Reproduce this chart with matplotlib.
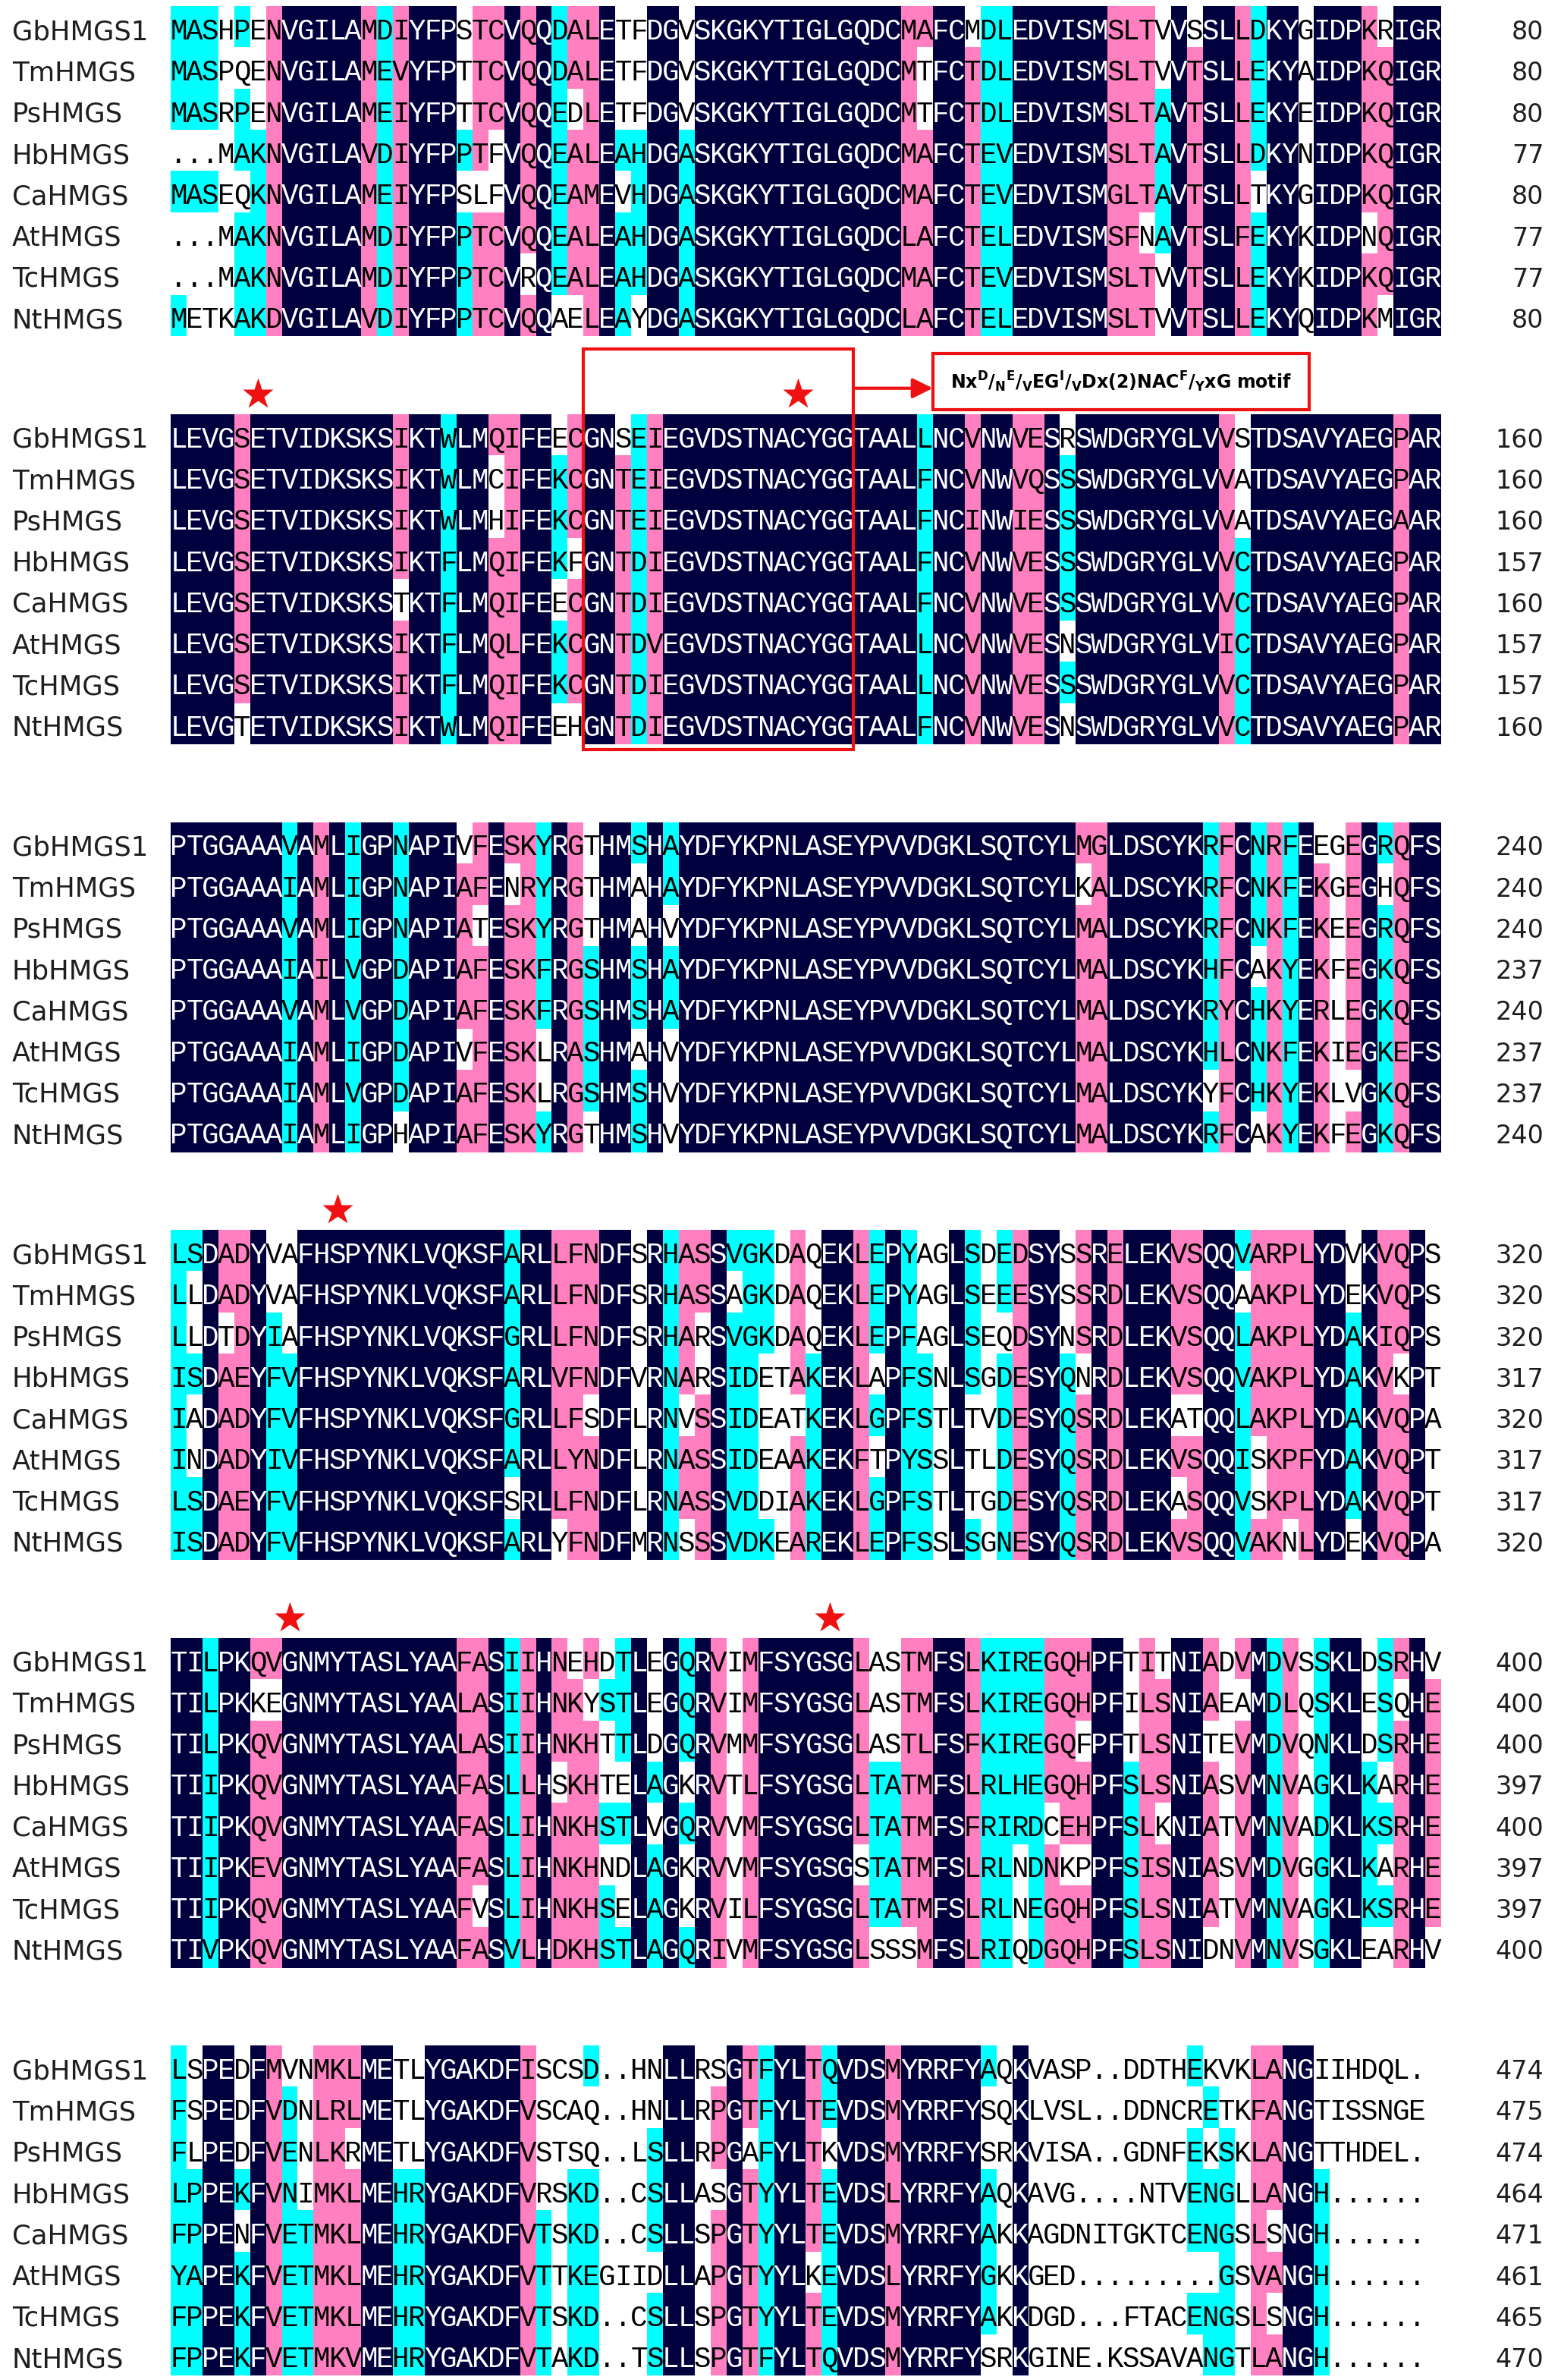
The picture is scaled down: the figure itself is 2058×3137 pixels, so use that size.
import numpy as np
import matplotlib
matplotlib.use('Agg')
import matplotlib.pyplot as plt
from matplotlib.patches import Rectangle
from collections import Counter

names = ['GbHMGS1', 'TmHMGS', 'PsHMGS', 'HbHMGS', 'CaHMGS', 'AtHMGS', 'TcHMGS', 'NtHMGS']

block1 = [
    'MASHPENVGILAMDIYFPSTCVQQDALETFDGVSKGKYTIGLGQDCMAFCMDLEDVISMSLTVVSSLLDKYGIDPKRIGR',
    'MASPQENVGILAMEVYFPTTCVQQDALETFDGVSKGKYTIGLGQDCMTFCTDLEDVISMSLTVVTSLLEKYAIDPKQIGR',
    'MASRPENVGILAMEIYFPTTCVQQEDLETFDGVSKGKYTIGLGQDCMTFCTDLEDVISMSLTAVTSLLEKYEIDPKQIGR',
    '...MAKNVGILAVDIYFPPTFVQQEALEAHDGASKGKYTIGLGQDCMAFCTEVEDVISMSLTAVTSLLDKYNIDPKQIGR',
    'MASEQKNVGILAMEIYFPSLFVQQEAMEVHDGASKGKYTIGLGQDCMAFCTEVEDVISMGLTAVTSLLTKYGIDPKQIGR',
    '...MAKNVGILAMDIYFPPTCVQQEALEAHDGASKGKYTIGLGQDCLAFCTELEDVISMSFNAVTSLFEKYKIDPNQIGR',
    '...MAKNVGILAMDIYFPPTCVRQEALEAHDGASKGKYTIGLGQDCMAFCTEVEDVISMSLTVVTSLLEKYKIDPKQIGR',
    'METKAKDVGILAVDIYFPPTCVQQAELEAYDGASKGKYTIGLGQDCLAFCTELEDVISMSLTVVTSLLEKYQIDPKMIGR',
]
block2 = [
    'LEVGSETVIDKSKSIKTWLMQIFEECGNSEIEGVDSTNACYGGTAALLNCVNWVESRSWDGRYGLVVSTDSAVYAEGPAR',
    'LEVGSETVIDKSKSIKTWLMCIFEKCGNTEIEGVDSTNACYGGTAALFNCVNWVQSSSWDGRYGLVVATDSAVYAEGPAR',
    'LEVGSETVIDKSKSIKTWLMHIFEKCGNTEIEGVDSTNACYGGTAALFNCINWIESSSWDGRYGLVVATDSAVYAEGAAR',
    'LEVGSETVIDKSKSIKTFLMQIFEKFGNTDIEGVDSTNACYGGTAALFNCVNWVESSSWDGRYGLVVCTDSAVYAEGPAR',
    'LEVGSETVIDKSKSTKTFLMQIFEECGNTDIEGVDSTNACYGGTAALFNCVNWVESSSWDGRYGLVVCTDSAVYAEGPAR',
    'LEVGSETVIDKSKSIKTFLMQLFEKCGNTDVEGVDSTNACYGGTAALLNCVNWVESNSWDGRYGLVICTDSAVYAEGPAR',
    'LEVGSETVIDKSKSIKTFLMQIFEKCGNTDIEGVDSTNACYGGTAALLNCVNWVESSSWDGRYGLVVCTDSAVYAEGPAR',
    'LEVGTETVIDKSKSIKTWLMQIFEEHGNTDIEGVDSTNACYGGTAALFNCVNWVESNSWDGRYGLVVCTDSAVYAEGPAR',
]
block3 = [
    'PTGGAAAVAMLIGPNAPIVFESKYRGTHMSHAYDFYKPNLASEYPVVDGKLSQTCYLMGLDSCYKRFCNRFEEGEGRQFS',
    'PTGGAAAIAMLIGPNAPIAFENRYRGTHMAHAYDFYKPNLASEYPVVDGKLSQTCYLKALDSCYKRFCNKFEKGEGHQFS',
    'PTGGAAAVAMLIGPNAPIATESKYRGTHMAHVYDFYKPNLASEYPVVDGKLSQTCYLMALDSCYKRFCNKFEKEEGRQFS',
    'PTGGAAAIAILVGPDAPIAFESKFRGSHMSHAYDFYKPNLASEYPVVDGKLSQTCYLMALDSCYKHFCAKYEKFEGKQFS',
    'PTGGAAAVAMLVGPDAPIAFESKFRGSHMSHAYDFYKPNLASEYPVVDGKLSQTCYLMALDSCYKRYCHKYERLEGKQFS',
    'PTGGAAAIAMLIGPDAPIVFESKLRASHMAHVYDFYKPNLASEYPVVDGKLSQTCYLMALDSCYKHLCNKFEKIEGKEFS',
    'PTGGAAAIAMLVGPDAPIAFESKLRGSHMSHVYDFYKPNLASEYPVVDGKLSQTCYLMALDSCYKYFCHKYEKLVGKQFS',
    'PTGGAAAIAMLIGPHAPIAFESKYRGTHMSHVYDFYKPNLASEYPVVDGKLSQTCYLMALDSCYKRFCAKYEKFEGKQFS',
]
block4 = [
    'LSDADYVAFHSPYNKLVQKSFARLLFNDFSRHASSVGKDAQEKLEPYAGLSDEDSYSSRELEKVSQQVARPLYDVKVQPS',
    'LLDADYVAFHSPYNKLVQKSFARLLFNDFSRHASSAGKDAQEKLEPYAGLSEEESYSSRDLEKVSQQAAKPLYDEKVQPS',
    'LLDTDYIAFHSPYNKLVQKSFGRLLFNDFSRHARSVGKDAQEKLEPFAGLSEQDSYNSRDLEKVSQQLAKPLYDAKIQPS',
    'ISDAEYFVFHSPYNKLVQKSFARLVFNDFVRNARSIDETAKEKLAPFSNLSGDESYQNRDLEKVSQQVAKPLYDAKVKPT',
    'IADADYFVFHSPYNKLVQKSFGRLLFSDFLRNVSSIDEATKEKLGPFSTLTVDESYQSRDLEKATQQLAKPLYDAKVQPA',
    'INDADYIVFHSPYNKLVQKSFARLLYNDFLRNASSIDEAAKEKFTPYSSLTLDESYQSRDLEKVSQQISKPFYDAKVQPT',
    'LSDAEYFVFHSPYNKLVQKSFSRLLFNDFLRNASSVDDIAKEKLGPFSTLTGDESYQSRDLEKASQQVSKPLYDAKVQPT',
    'ISDADYFVFHSPYNKLVQKSFARLYFNDFMRNSSSVDKEAREKLEPFSSLSGNESYQSRDLEKVSQQVAKNLYDEKVQPA',
]
block5 = [
    'TILPKQVGNMYTASLYAAFASIIHNEHDTLEGQRVIMFSYGSGLASTMFSLKIREGQHPFTITNIADVMDVSSKLDSRHV',
    'TILPKKEGNMYTASLYAALASIIHNKYSTLEGQRVIMFSYGSGLASTMFSLKIREGQHPFILSNIAEAMDLQSKLESQHE',
    'TILPKQVGNMYTASLYAALASIIHNKHTTLDGQRVMMFSYGSGLASTLFSFKIREGQFPFTLSNITEVMDVQNKLDSRHE',
    'TIIPKQVGNMYTASLYAAFASLLHSKHTELAGKRVTLFSYGSGLTATMFSLRLHEGQHPFSLSNIASVMNVAGKLKARHE',
    'TIIPKQVGNMYTASLYAAFASLIHNKHSTLVGQRVVMFSYGSGLTATMFSFRIRDCEHPFSLKNIATVMNVADKLKSRHE',
    'TIIPKEVGNMYTASLYAAFASLIHNKHNDLAGKRVVMFSYGSGSTATMFSLRLNDNKPPFSISNIASVMDVGGKLKARHE',
    'TIIPKQVGNMYTASLYAAFVSLIHNKHSELAGKRVILFSYGSGLTATMFSLRLNEGQHPFSLSNIATVMNVAGKLKSRHE',
    'TIVPKQVGNMYTASLYAAFASVLHDKHSTLAGQRIVMFSYGSGLSSSMFSLRIQDGQHPFSLSNIDNVMNVSGKLEARHV',
]
block6 = [
    'LSPEDFMVNMKLMETLYGAKDFISCSD..HNLLRSGTFYLTQVDSMYRRFYAQKVASP..DDTHEKVKLANGIIHDQL.',
    'FSPEDFVDNLRLMETLYGAKDFVSCAQ..HNLLRPGTFYLTEVDSMYRRFYSQKLVSL..DDNCRETKFANGTISSNGE',
    'FLPEDFVENLKRMETLYGAKDFVSTSQ..LSLLRPGAFYLTKVDSMYRRFYSRKVISA..GDNFEKSKLANGTTHDEL.',
    'LPPEKFVNIMKLMEHRYGAKDFVRSKD..CSLLASGTYYLTEVDSLYRRFYAQKAVG....NTVENGLLANGH......',
    'FPPENFVETMKLMEHRYGAKDFVTSKD..CSLLSPGTYYLTEVDSMYRRFYAKKAGDNITGKTCENGSLSNGH......',
    'YAPEKFVETMKLMEHRYGAKDFVTTKEGIIDLLAPGTYYLKEVDSLYRRFYGKKGED.........GSVANGH......',
    'FPPEKFVETMKLMEHRYGAKDFVTSKD..CSLLSPGTYYLTEVDSMYRRFYAKKDGD...FTACENGSLSNGH......',
    'FPPEKFVETMKVMEHRYGAKDFVTAKD..TSLLSPGTFYLTQVDSMYRRFYSRKGINE.KSSAVANGTLANGH......',
]
blocks = [block1, block2, block3, block4, block5, block6]

# conserved residues marked with a star: block index -> column indices
star_cols = {1: [5, 39], 3: [10], 4: [7, 41]}

# motif box (block 2, columns 27-43)
motif_block = 1
motif_cols = (26, 43)
motif_label = r'$Nx^{D}/_{N}{}^{E}/_{V}EG^{I}/_{V}Dx(2)NAC^{F}/_{Y}xG\ motif$'

# residue pairs treated as similar by the homology shading
similar_pairs = ['DE', 'DN', 'EQ', 'EN', 'NH', 'HR', 'KR', 'IL', 'IV', 'LV', 'LM', 'MV',
                 'IM', 'FL', 'FY', 'FW', 'FI', 'SG', 'AG', 'AP', 'GE', 'GN', 'GD']

sim = set()
for p in similar_pairs:
    sim.add((p[0], p[1]))
    sim.add((p[1], p[0]))


def shading(block):
    n = len(block)
    ncol = len(block[0])
    lev = np.zeros((n, ncol), dtype=int)
    for j in range(ncol):
        col = [s[j] for s in block]
        cnt = Counter(c for c in col if c != '.')
        if not cnt:
            continue
        top = max(cnt.values())
        cons = min(k for k, v in cnt.items() if v == top)
        if top == n:
            level = 3
        elif top >= 0.75 * n:
            level = 2
        elif top >= 0.5 * n:
            level = 1
        else:
            continue
        for i, c in enumerate(col):
            if c == cons or (c, cons) in sim:
                lev[i, j] = level
    return lev


palette = np.array([
    [1.0, 1.0, 1.0],            # not conserved
    [0.0, 1.0, 1.0],            # >= 50 %
    [1.0, 0.5, 0.753],          # >= 75 %
    [0.0, 0.0, 0.25],           # 100 %
])

W, H = 2058, 3137
col_px = 20.93
row_px = 54.26
x0_px = 225.0
y0_px = 9.37
stride = 537.6 / row_px

fig = plt.figure(figsize=(W / 100, H / 100), dpi=100)
ax = fig.add_axes([0, 0, 1, 1])
ax.axis('off')

seq_font = dict(family='Liberation Mono', fontsize=27)
name_font = dict(family='DejaVu Sans', fontsize=25.5, color='#1e1e1e')
num_font = dict(family='DejaVu Sans', fontsize=24, color='#1e1e1e')

totals = [0] * len(names)
for b, block in enumerate(blocks):
    top = b * stride
    lev = shading(block)
    ncol = len(block[0])
    ax.imshow(palette[lev], extent=(0, ncol, top + len(block), top),
              interpolation='nearest', aspect='auto', zorder=1)
    for i, seq in enumerate(block):
        base = top + i + 0.79
        for j, ch in enumerate(seq):
            ax.text(j + 0.5, base, ch, ha='center', va='baseline',
                    color='white' if lev[i, j] == 3 else 'black', zorder=3, **seq_font)
        totals[i] += sum(1 for c in seq if c != '.')
        ax.text(-10.0, base, names[i], ha='left', va='baseline', **name_font)
        ax.text(86.5, base, str(totals[i]), ha='right', va='baseline', **num_font)
    for c in star_cols.get(b, []):
        ax.plot(c + 0.5, top - 0.5, marker='*', ms=31, color='#f01010', mec='none', zorder=4)

# motif box, arrow and label
top = motif_block * stride
c0, c1 = motif_cols
ax.add_patch(Rectangle((c0, top - 1.61), c1 - c0, 9.74, fill=False,
                       ec='#ee1111', lw=3, zorder=5))
ax.add_patch(Rectangle((48, top - 1.5), 23.7, 1.37, fc='white',
                       ec='#ee1111', lw=3, zorder=5))
ax.annotate('', xy=(48, top - 0.65), xytext=(c1, top - 0.65),
            arrowprops=dict(arrowstyle='-|>', color='#ee1111', lw=3,
                            mutation_scale=40, shrinkA=0, shrinkB=0), zorder=5)
plt.rcParams['mathtext.default'] = 'bf'
ax.text(48 + 23.7 / 2, top - 0.8, motif_label, ha='center', va='center',
        fontsize=17, color='black', zorder=6)

ax.set_xlim(-x0_px / col_px, (W - x0_px) / col_px)
ax.set_ylim((H - y0_px) / row_px, -y0_px / row_px)

fig.savefig('out.png', dpi=100)
